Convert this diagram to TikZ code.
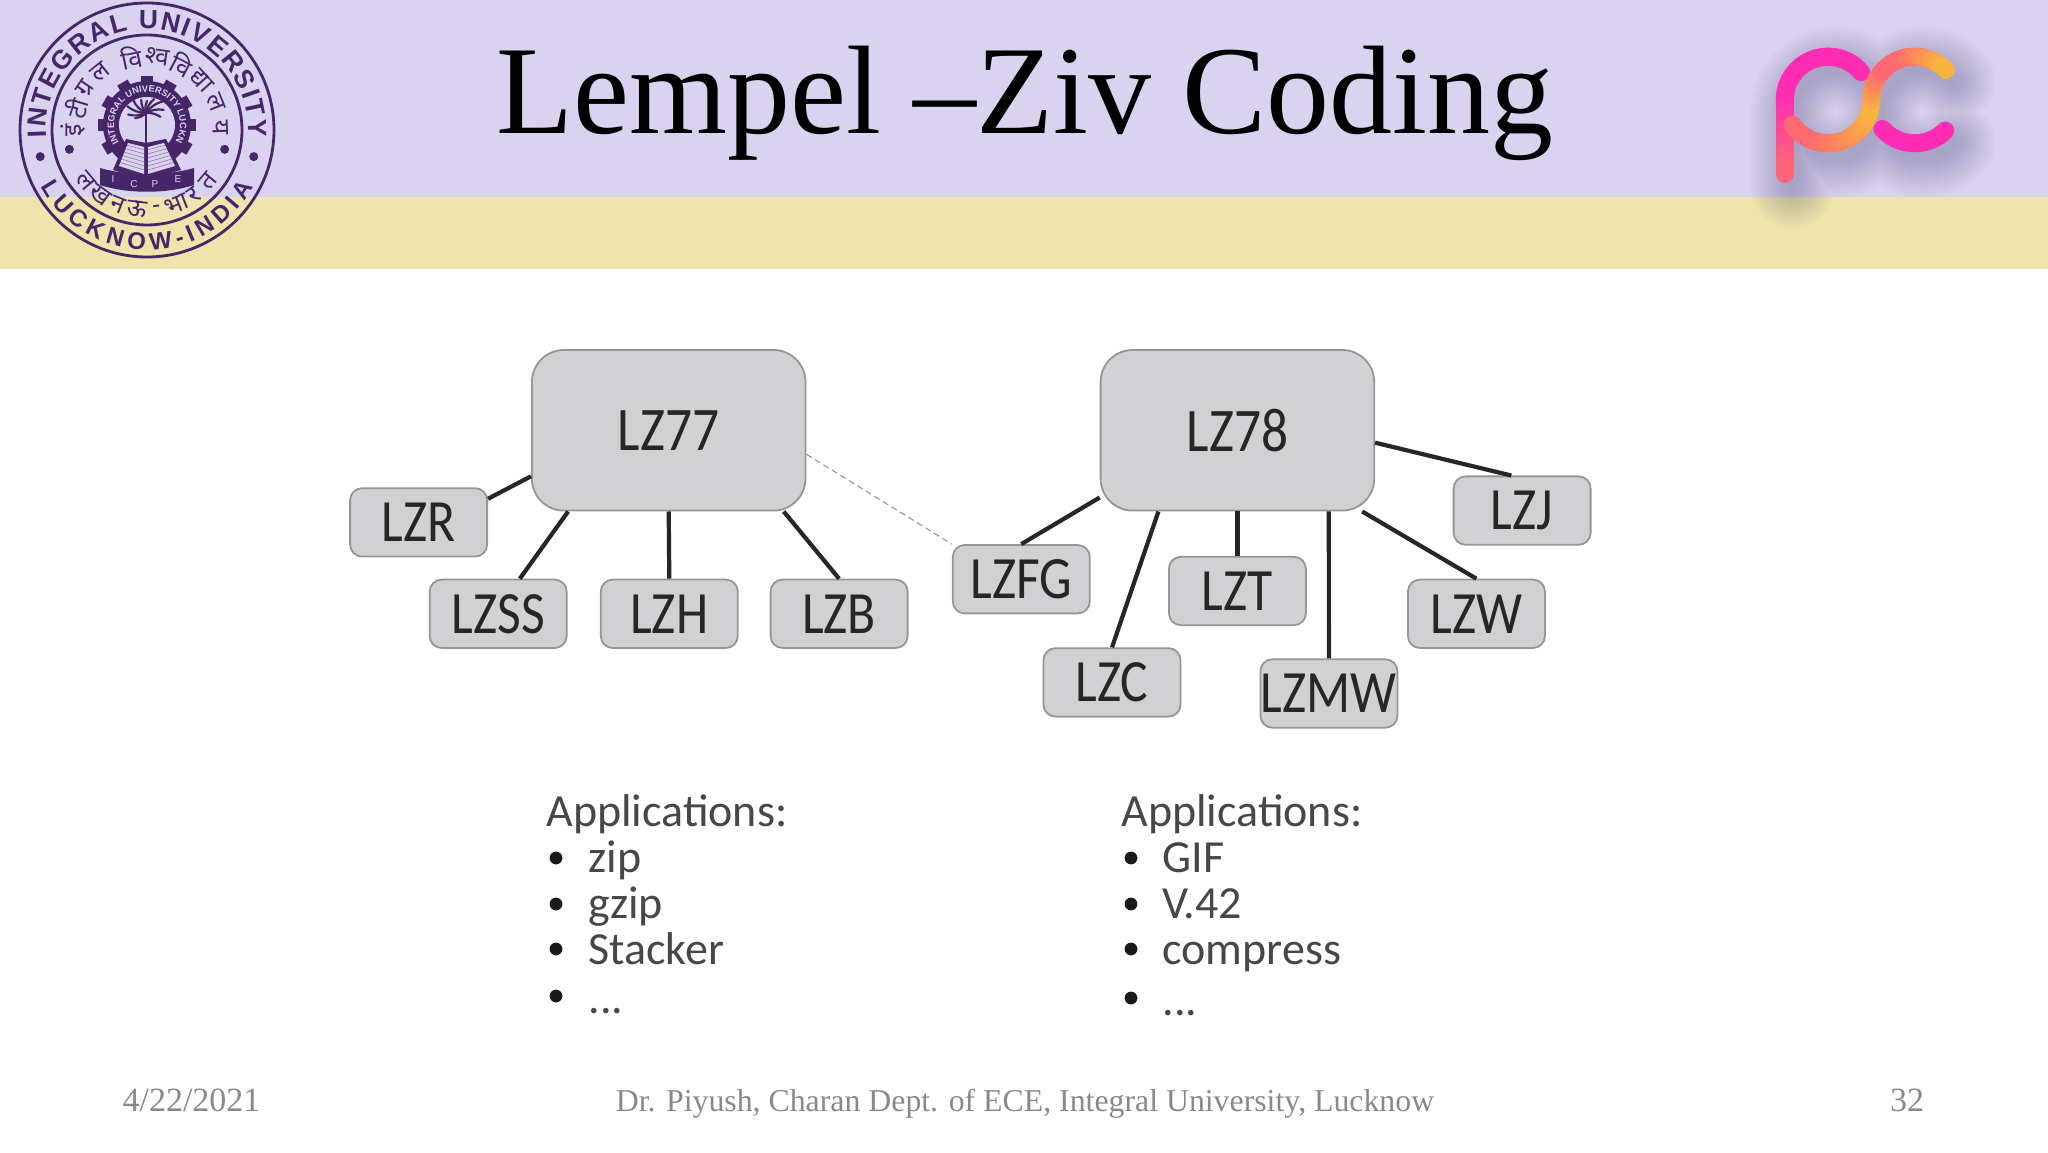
\documentclass[tikz,border=0pt]{standalone}
\usepackage{fontspec}
\setmainfont{Liberation Serif}
\setsansfont{Liberation Sans}
\newfontfamily\boxfont[FakeStretch=0.86]{Carlito}
\newfontfamily\appfont{Carlito}
\newfontfamily\hindifont[Script=Devanagari]{Noto Sans}
\definecolor{slidelilac}{RGB}{218,211,239}
\definecolor{slidesand}{RGB}{238,229,172}
\definecolor{sealpurple}{RGB}{70,38,104}
\definecolor{boxgrey}{RGB}{209,209,211}
\definecolor{boxedge}{RGB}{150,150,152}
\definecolor{footgrey}{RGB}{137,137,137}
\definecolor{pcpink}{RGB}{255,45,180}
\definecolor{pccoral}{RGB}{255,106,112}
\definecolor{pcyellow}{RGB}{249,185,60}
\usepackage{tikz}
\usetikzlibrary{positioning,calc,decorations.text}
\tikzset{
  bigbox/.style={draw=boxedge, line width=0.9pt, fill=boxgrey, rounded corners=16pt,
    minimum width=136.8pt, minimum height=80.3pt, inner sep=0pt,
    text=black!85, font=\boxfont\fontsize{31}{31}\selectfont},
  smallbox/.style={draw=boxedge, line width=0.9pt, fill=boxgrey, rounded corners=6pt,
    minimum width=68.5pt, minimum height=34.2pt, inner sep=0pt,
    text=black!85, font=\boxfont\fontsize{30}{30}\selectfont},
  branch/.style={draw=black!85, line width=2.1pt},
  applabel/.style={anchor=base west, inner sep=0pt, text=black!72,
    font=\appfont\fontsize{23}{23}\selectfont},
  appdot/.style={circle, fill=black!90, inner sep=0pt, minimum size=6.4pt},
  footlabel/.style={anchor=base, inner sep=0pt, text=footgrey, font=\fontsize{17}{17}\selectfont},
  hinditext/.style={inner sep=0pt, text=sealpurple, font=\hindifont\fontsize{12.5}{12.5}\selectfont},
  pcstroke/.style={line width=9pt, line cap=round}
}
\newcommand{\pcoutline}{
  (40:43.3) arc[start angle=40, end angle=180, radius=43.3] -- (-43.3,-74)
  (215:43.3) arc[start angle=215, end angle=360, radius=43.3]
  arc[start angle=180, end angle=45, radius=43.3]
  ($(86.6,0)+(222:43.3)$) arc[start angle=222, end angle=315, radius=43.3]
}
\begin{document}
\begin{tikzpicture}[x=0.5pt, y=0.5pt]
  \useasboundingbox (0,0) rectangle (2048,1152);

  % Bandeaux du haut
  \fill[slidesand] (0,883) rectangle (2048,955);
  \fill[slidelilac] (0,955) rectangle (2048,1152);

  % Titre
  \node[anchor=base, inner sep=0pt, font=\fontsize{63}{63}\selectfont] (title)
    at (1025,1018) {Lempel –Ziv Coding};

  % Sceau
  \begin{scope}[shift={(147,1022)}]
    \draw[sealpurple, line width=1.4pt] (0,0) circle[radius=127];
    \draw[sealpurple, line width=1.4pt] (0,0) circle[radius=95];
    \path[decorate, decoration={text along path, text align=fit to path,
      text color=sealpurple, text={|\sffamily\bfseries\fontsize{13.2}{13.2}\selectfont|INTEGRAL UNIVERSITY}}]
      (184:101) arc[start angle=184, end angle=-4, radius=101];
    \path[decorate, decoration={text along path, text align=fit to path,
      text color=sealpurple, text={|\sffamily\bfseries\fontsize{12}{12}\selectfont|LUCKNOW-INDIA}}]
      (208:120) arc[start angle=208, end angle=332, radius=120];
    \foreach \a/\r in {194/110, 194/80, -14/110, -14/80}
      \fill[sealpurple] (\a:\r) circle[radius=4.5];

    % Texte hindi autour du centre
    \foreach \c [count=\i] in {इं,टी,ग्र,ल}
      \node[hinditext, rotate={(180-(\i-1)*17)-90}] (hia\i) at ({180-(\i-1)*17}:74) {\c};
    \foreach \c [count=\i] in {वि,श्व,वि,द्या,ल,य}
      \node[hinditext, rotate={(102-(\i-1)*20)-90}] (hib\i) at ({102-(\i-1)*20}:74) {\c};
    \foreach \c [count=\i] in {ल,ख,न,ऊ,-,भा,र,त}
      \node[hinditext, rotate={(220+(\i-1)*14.3)+90}] (hic\i) at ({220+(\i-1)*14.3}:80) {\c};

    % Roue dentee
    \begin{scope}[shift={(0,5)}]
      \foreach \a in {0,30,...,330}
        \fill[sealpurple, rotate=\a] (41,-6) rectangle (49,6);
      \fill[sealpurple] (0,0) circle[radius=44];
      \fill[slidelilac] (0,0) circle[radius=28];
      \path[decorate, decoration={text along path, text align=fit to path,
        text color=slidelilac, text={|\sffamily\bfseries\fontsize{4.6}{4.6}\selectfont|INTEGRAL UNIVERSITY LUCKNOW}}]
        (212:33) arc[start angle=212, end angle=-32, radius=33];
    \end{scope}

    % Palmier et livre
    \draw[sealpurple, line width=1.2pt] (-1,-20) -- (-1,17);
    \foreach \a/\l in {10/18, 35/20, 60/16, 85/12, 110/14, 135/18, 160/20, 185/18, -15/15, 205/12}
      \draw[sealpurple, line width=1.1pt, line cap=round] (-1,17) to[bend left=18] ++(\a:\l);
    \fill[sealpurple] (-34,-40) -- (-21,-9) -- (-1,-13) -- (19,-9) -- (34,-40) -- (-1,-50) -- cycle;
    \fill[slidelilac] (-28,-36) -- (-19,-13) -- (-3,-17) -- (-3,-44) -- cycle;
    \fill[slidelilac] (28,-36) -- (17,-13) -- (1,-17) -- (1,-44) -- cycle;
    \foreach \t in {0.15,0.3,0.45,0.6,0.75,0.9} {
      \draw[sealpurple!60, line width=0.3pt] ($(-28,-36)!\t!(-19,-13)$) -- ($(-3,-44)!\t!(-3,-17)$);
      \draw[sealpurple!60, line width=0.3pt] ($(28,-36)!\t!(17,-13)$) -- ($(1,-44)!\t!(1,-17)$);
    }
    \fill[sealpurple] (-47,-38) .. controls (-20,-46) and (20,-46) .. (47,-38)
      -- (47,-55) .. controls (20,-64) and (-20,-64) .. (-47,-55) -- cycle;
    \foreach \l/\x/\y in {I/-34/-49, C/-13/-54, P/8/-54, E/31/-49}
      \node[inner sep=0pt, text=slidelilac, font=\sffamily\fontsize{5}{5}\selectfont] (icpe\l) at (\x,\y) {\l};
  \end{scope}

  % Logo pc
  \begin{scope}[shift={(1828,1052)}]
    \foreach \w in {6,9,...,42}
      \draw[black!75!blue!80!white, opacity=0.024, line width=\w pt, line cap=round, shift={(8,-12)}] \pcoutline;
    \foreach \a in {40,48,...,176}
      \draw[pcstroke, pcpink] (\a:43.3) arc[start angle=\a, delta angle=8, radius=43.3];
    \foreach \t in {0,10,...,90} {
      \pgfmathsetmacro{\ya}{-\t*0.74}
      \pgfmathsetmacro{\yb}{-(\t+10)*0.74}
      \pgfmathsetmacro{\mix}{\t}
      \draw[pcstroke, pccoral!\mix!pcpink] (-43.3,\ya) -- (-43.3,\yb);
    }
    \foreach \a in {215,223,...,350} {
      \pgfmathsetmacro{\mix}{min(100,max(0,(\a-250)*1.0))}
      \draw[pcstroke, pcyellow!\mix!pccoral] (\a:43.3) arc[start angle=\a, delta angle=8, radius=43.3];
    }
    \foreach \a in {180,172,...,52} {
      \pgfmathsetmacro{\mix}{max(max(0,(110-\a)*1.6),(\a-140)*2)}
      \draw[pcstroke, pcyellow!\mix!pccoral] ($(86.6,0)+(\a:43.3)$) arc[start angle=\a, delta angle=-8, radius=43.3];
    }
    \draw[pcstroke, pcpink] ($(86.6,0)+(222:43.3)$) arc[start angle=222, end angle=315, radius=43.3];
  \end{scope}

  % Boites LZ77
  \node[bigbox] (lz77) at (668.7,721.7) {LZ77};
  \node[smallbox] (lzr) at (418.6,629.6) {LZR};
  \node[smallbox] (lzss) at (498.2,538.2) {LZSS};
  \node[smallbox] (lzh) at (669.3,538.2) {LZH};
  \node[smallbox] (lzb) at (839.1,538.2) {LZB};

  % Boites LZ78
  \node[bigbox] (lz78) at (1237.4,721.7) {LZ78};
  \node[smallbox] (lzfg) at (1021.3,572.8) {LZFG};
  \node[smallbox] (lzc) at (1112,469.6) {LZC};
  \node[smallbox] (lzt) at (1237.4,561) {LZT};
  \node[smallbox] (lzmw) at (1328.9,458.5) {LZMW};
  \node[smallbox] (lzw) at (1476.4,538.2) {LZW};
  \node[smallbox] (lzj) at (1522.1,641.4) {LZJ};

  % Liaisons
  \draw[branch] ([yshift=11.8pt]lzr.east) -- ([yshift=-23pt]lz77.west);
  \draw[branch] ([xshift=10.8pt]lzss.north) -- ([xshift=-50.3pt]lz77.south);
  \draw[branch] (lzh.north) -- (lz77.south);
  \draw[branch] (lzb.north) -- ([xshift=57.5pt]lz77.south);
  \draw[black!45, line width=0.5pt, densely dashed] ([yshift=-12pt]lz77.east) -- (lzfg.north west);
  \draw[branch] (lzfg.north) -- ([yshift=-33.6pt]lz78.west);
  \draw[branch] (lzc.north) -- ([xshift=-39.5pt]lz78.south);
  \draw[branch] (lzt.north) -- (lz78.south);
  \draw[branch] (lzmw.north) -- ([xshift=45.7pt]lz78.south);
  \draw[branch] (lzw.north) -- ([xshift=62.4pt]lz78.south);
  \draw[branch] ([xshift=-5.4pt]lzj.north) -- ([yshift=-6.2pt]lz78.east);

  % Applications
  \node[applabel] (appa) at (546,325.5) {Applications:};
  \node[applabel] (appazip) at (588,279.5) {zip};
  \node[applabel] (appagzip) at (588,233.5) {gzip};
  \node[applabel] (appastacker) at (588,188) {Stacker};
  \node[applabel] (appamore) at (588,139) {...};
  \foreach \y [count=\i] in {294,248,203,156}
    \node[appdot] (dota\i) at (556,\y) {};

  \node[applabel] (appb) at (1121,325.5) {Applications:};
  \node[applabel] (appbgif) at (1162,279.5) {GIF};
  \node[applabel] (appbv) at (1162,233.5) {V.42};
  \node[applabel] (appbcompress) at (1162,188) {compress};
  \node[applabel] (appbmore) at (1162,137) {...};
  \foreach \y [count=\i] in {294,248,203,154}
    \node[appdot] (dotb\i) at (1131,\y) {};

  % Pied de page
  \node[footlabel] (date) at (191.5,41) {4/22/2021};
  \node[footlabel, font=\fontsize{15.9}{15.9}\selectfont] (author) at (1025,41) {Dr. Piyush, Charan Dept. of ECE, Integral University, Lucknow};
  \node[footlabel] (page) at (1907,41) {32};
\end{tikzpicture}
\end{document}
